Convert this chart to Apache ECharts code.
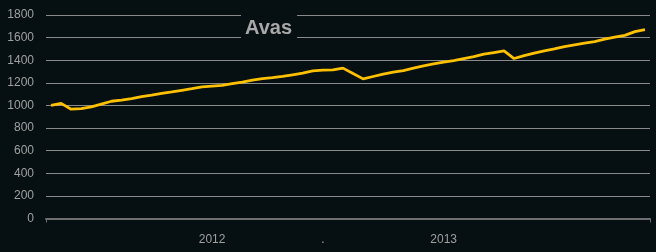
<!DOCTYPE html>
<html>
<head>
<meta charset="utf-8">
<script src="https://cdn.jsdelivr.net/npm/echarts@6/dist/echarts.min.js"></script>
<style>
html,body{margin:0;padding:0;background:#060f12;}
#c{width:656px;height:252px;}
</style>
</head>
<body>
<div id="c"></div>
<script>
var titleText = 'Avas';
var values = [1000, 1018, 967, 971, 987, 1012, 1037, 1048, 1061, 1078,
              1091, 1107, 1120, 1134, 1148, 1164, 1171, 1177, 1194, 1207,
              1224, 1237, 1246, 1257, 1271, 1285, 1305, 1312, 1315, 1330,
              1283, 1235, 1256, 1277, 1294, 1308, 1330, 1350, 1368, 1383,
              1397, 1415, 1432, 1453, 1468, 1483, 1415, 1441, 1462, 1483,
              1500, 1521, 1536, 1551, 1565, 1586, 1604, 1620, 1653, 1671];
var categories = values.map(function (v, i) { return 'p' + i; });
var xLabelIdx = [16, 27, 39];
var xLabelText = ['2012', '.', '2013'];
var yTicks = [0, 200, 400, 600, 800, 1000, 1200, 1400, 1600, 1800];

var chart = echarts.init(document.getElementById('c'), null, {renderer: 'canvas'});
chart.setOption({
  backgroundColor: '#060f12',
  animation: false,
  title: {
    text: titleText,
    left: 241, top: 12,
    backgroundColor: '#060f12',
    padding: [6, 5, 0, 4],
    textStyle: {color: '#a8a8a8', fontSize: 20, fontWeight: 'bold', fontFamily: 'Liberation Sans', lineHeight: 20}
  },
  grid: {left: 46, right: 6, top: 15, bottom: 33.5, containLabel: false},
  xAxis: {
    type: 'category',
    data: categories,
    boundaryGap: true,
    axisLine: {show: true, lineStyle: {color: '#6e6e6e', width: 2}},
    axisTick: {
      show: true, length: 4, lineStyle: {color: '#6e6e6e', width: 1},
      interval: function (i) { return i === 0; }
    },
    axisLabel: {
      interval: 0,
      margin: 15,
      color: '#a0a0a0', fontSize: 12, fontFamily: 'Liberation Sans',
      formatter: function (v, i) {
        var k = xLabelIdx.indexOf(i);
        return k >= 0 ? xLabelText[k] : '';
      }
    },
    splitLine: {show: false}
  },
  yAxis: {
    type: 'value',
    min: yTicks[0], max: yTicks[yTicks.length - 1], interval: 200,
    axisLine: {show: false},
    axisTick: {show: false},
    axisLabel: {
      color: '#a0a0a0', fontSize: 12, margin: 12, fontFamily: 'Liberation Sans',
      formatter: function (v) { return String(v); }
    },
    splitLine: {lineStyle: {color: '#8a8a8a', width: 1}}
  },
  series: [{
    type: 'line',
    data: values,
    symbol: 'none',
    lineStyle: {color: '#ffc000', width: 2.8},
    z: 3
  }]
});
</script>
</body>
</html>
